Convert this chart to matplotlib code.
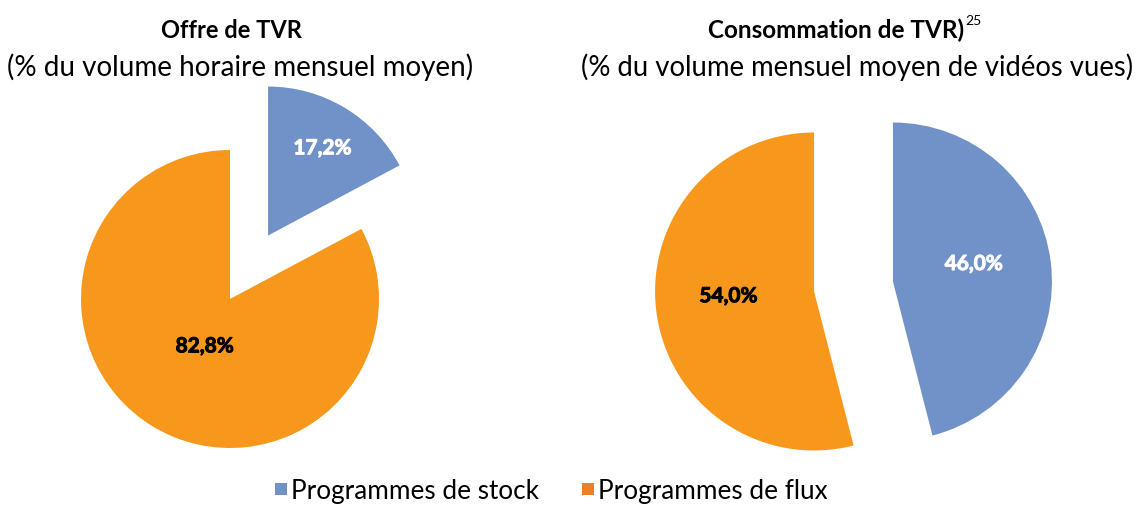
import matplotlib
matplotlib.use("Agg")
import matplotlib.pyplot as plt
from matplotlib.lines import Line2D
import matplotlib.patheffects as pe
import numpy as np

plt.rcParams['font.family'] = ['Lato', 'DejaVu Sans']

categories = ["Programmes de stock", "Programmes de flux"]
offre_values = [17.2, 82.8]
conso_values = [46.0, 54.0]
offre_labels = ["17,2%", "82,8%"]
conso_labels = ["46,0%", "54,0%"]

colors = ["#7191C9", "#F7981D"]
legend_colors = ["#7191C9", "#EE7F27"]
label_colors = ["white", "black"]

W, H = 1139, 506
fig = plt.figure(figsize=(W / 100, H / 100), dpi=100)
ax = fig.add_axes([0, 0, 1, 1])


def draw_pie(values, labels, center, radius, explode, label_dist, label_dang):
    wedges, _ = ax.pie(values, colors=colors, startangle=90, counterclock=False,
                       center=center, radius=radius, explode=explode,
                       wedgeprops=dict(linewidth=0), frame=True)
    for w, lab, lc, d, da in zip(wedges, labels, label_colors, label_dist, label_dang):
        th = np.deg2rad((w.theta1 + w.theta2) / 2 + da)
        cx, cy = w.center
        ax.text(cx + d * radius * np.cos(th), cy + d * radius * np.sin(th), lab,
                ha='center', va='center', fontsize=15, fontweight='bold', color=lc,
                path_effects=[pe.withStroke(linewidth=0.7, foreground=lc)])


# left pie
draw_pie(offre_values, offre_labels, center=(230, H - 300), radius=149,
         explode=[74, 0], label_dist=[0.69, 0.36], label_dang=[-1, 3])
# right pie
draw_pie(conso_values, conso_labels, center=(853.5, H - 287.5), radius=159,
         explode=[39.75, 39.75], label_dist=[0.52, 0.54], label_dang=[5, -4])

ax.set_xlim(0, W)
ax.set_ylim(0, H)
ax.set_aspect('equal')
ax.axis('off')

# titles
ax.text(231, H - 30, "Offre de TVR", ha='center', va='center', fontsize=17, fontweight='bold')
ax.text(240, H - 67, "(% du volume horaire mensuel moyen)", ha='center', va='center', fontsize=20)
t2 = ax.text(836, H - 30, "Consommation de TVR)", ha='center', va='center', fontsize=17.5, fontweight='bold')
ax.annotate("25", xy=(1, 1), xycoords=t2, xytext=(1, 2), textcoords='offset points',
            ha='left', va='top', fontsize=10)
ax.text(857, H - 67, "(% du volume mensuel moyen de vidéos vues)", ha='center', va='center', fontsize=19.8)

handles = [Line2D([0], [0], marker='s', linestyle='none', markersize=9,
                  markerfacecolor=c, markeredgewidth=0) for c in legend_colors]
fig.legend(handles, categories, loc='center', bbox_to_anchor=(551 / W, 1 - 492 / H),
           ncol=2, frameon=False, fontsize=18.8, handletextpad=0.15, columnspacing=1.6,
           handlelength=0.5)

fig.savefig("out.png", dpi=100)
